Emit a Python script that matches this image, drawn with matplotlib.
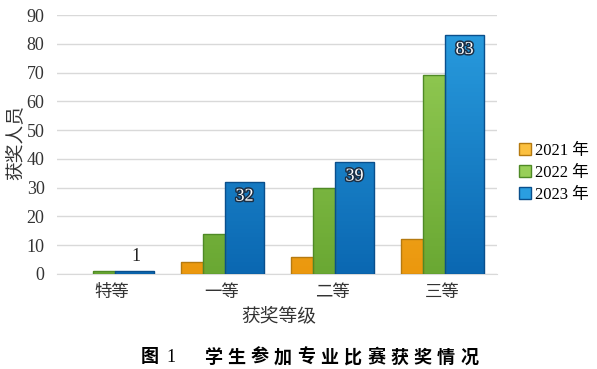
import matplotlib
matplotlib.use("Agg")
import matplotlib.pyplot as plt
import matplotlib.patheffects as pe
from matplotlib.patches import Patch
from matplotlib.colors import LinearSegmentedColormap
import numpy as np

# 数据
categories = ['特等', '一等', '二等', '三等']
years = ['2021 年', '2022 年', '2023 年']
v2021 = [0, 4, 6, 12]
v2022 = [1, 14, 30, 69]
v2023 = [1, 32, 39, 83]
series = [v2021, v2022, v2023]

# 样式
face_top = ['#fbc040', '#98cf58', '#2a9ee0']
face_bot = ['#eb980e', '#6aa833', '#0b68b2']
edges = ['#b57a10', '#4f8a26', '#0a4f8c']
offsets = [-0.373, -0.173, 0.027]
widths = [0.2, 0.2, 0.355]

plt.rcParams['font.family'] = ['Liberation Serif', 'Noto Sans CJK SC']

fig = plt.figure(figsize=(5.97, 3.69), dpi=100)
ax = fig.add_axes([57 / 597, 1 - 274 / 369, 440 / 597, 259 / 369])
ax.set_xlim(-0.5, 3.5)
ax.set_ylim(0, 90)

x = np.arange(len(categories))
for s, vals in enumerate(series):
    bars = ax.bar(x + offsets[s], vals, widths[s], align='edge',
                  color=face_bot[s], edgecolor=edges[s], linewidth=1.0, zorder=3)
    cmap = LinearSegmentedColormap.from_list('g%d' % s, [face_bot[s], face_top[s]])
    grad = np.linspace(0, 1, 64).reshape(-1, 1)
    for b in bars:
        h = b.get_height()
        if h <= 0:
            b.set_visible(False)
            continue
        x0 = b.get_x()
        im = ax.imshow(grad, cmap=cmap, origin='lower', aspect='auto',
                       extent=[x0, x0 + b.get_width(), 0, 90], zorder=3)
        im.set_clip_path(b)
        b.set_facecolor('none')
        b.set_zorder(4)

# 数值标签
for i, v in enumerate(v2023):
    cx = x[i] + offsets[2] + widths[2] / 2
    if v < 5:
        ax.text(cx + 0.01, v + 2.3, str(v), ha='center', va='bottom',
                fontsize=13, color='#222222', zorder=6)
    else:
        ax.text(cx, v - 2, str(v), ha='center', va='top', fontsize=13,
                color='white', zorder=6,
                path_effects=[pe.Stroke(linewidth=2.2, foreground='#1b2f45'), pe.Normal()])

ax.set_yticks(range(0, 91, 10))
ax.yaxis.grid(True, color='#d9d9d9', linewidth=1.0, zorder=0)
ax.set_axisbelow(True)
ax.set_xticks(x)
ax.set_xticklabels(categories, fontsize=12.5, color='#333333')
ax.tick_params(axis='both', length=0, labelsize=13, colors='#333333')
ax.tick_params(axis='y', pad=9)
ax.tick_params(axis='x', pad=8, labelsize=12.5)
for sp in ['top', 'right', 'left']:
    ax.spines[sp].set_visible(False)
ax.spines['bottom'].set_color('#d9d9d9')

fig.text(15 / 597, 1 - 143 / 369, '获奖人员', rotation=90, ha='center', va='center',
         fontsize=13.5, color='#333333')
fig.text(279 / 597, 1 - 316 / 369, '获奖等级', ha='center', va='center',
         fontsize=13.5, color='#333333')

handles = [Patch(facecolor=face_top[i], edgecolor=edges[i], label=years[i]) for i in range(3)]
ax.legend(handles=handles, loc='center left', bbox_to_anchor=(1.035, 0.39), frameon=False,
          fontsize=12, handlelength=0.7, handleheight=0.7, handletextpad=0.25,
          labelspacing=0.35, borderaxespad=0)

# 图题
fig.text(150 / 597, 1 - 357 / 369, '图', ha='center', va='center', fontsize=13,
         fontweight='bold', family=['Noto Sans CJK SC'])
fig.text(171 / 597, 1 - 357 / 369, '1', ha='center', va='center', fontsize=13,
         family=['Liberation Serif'])
title = '学生参加专业比赛获奖情况'
for k, ch in enumerate(title):
    fig.text((213 + k * 23.3) / 597, 1 - 357 / 369, ch, ha='center', va='center',
             fontsize=13, fontweight='bold', family=['Noto Sans CJK SC'])

fig.savefig('out.png', dpi=100)
